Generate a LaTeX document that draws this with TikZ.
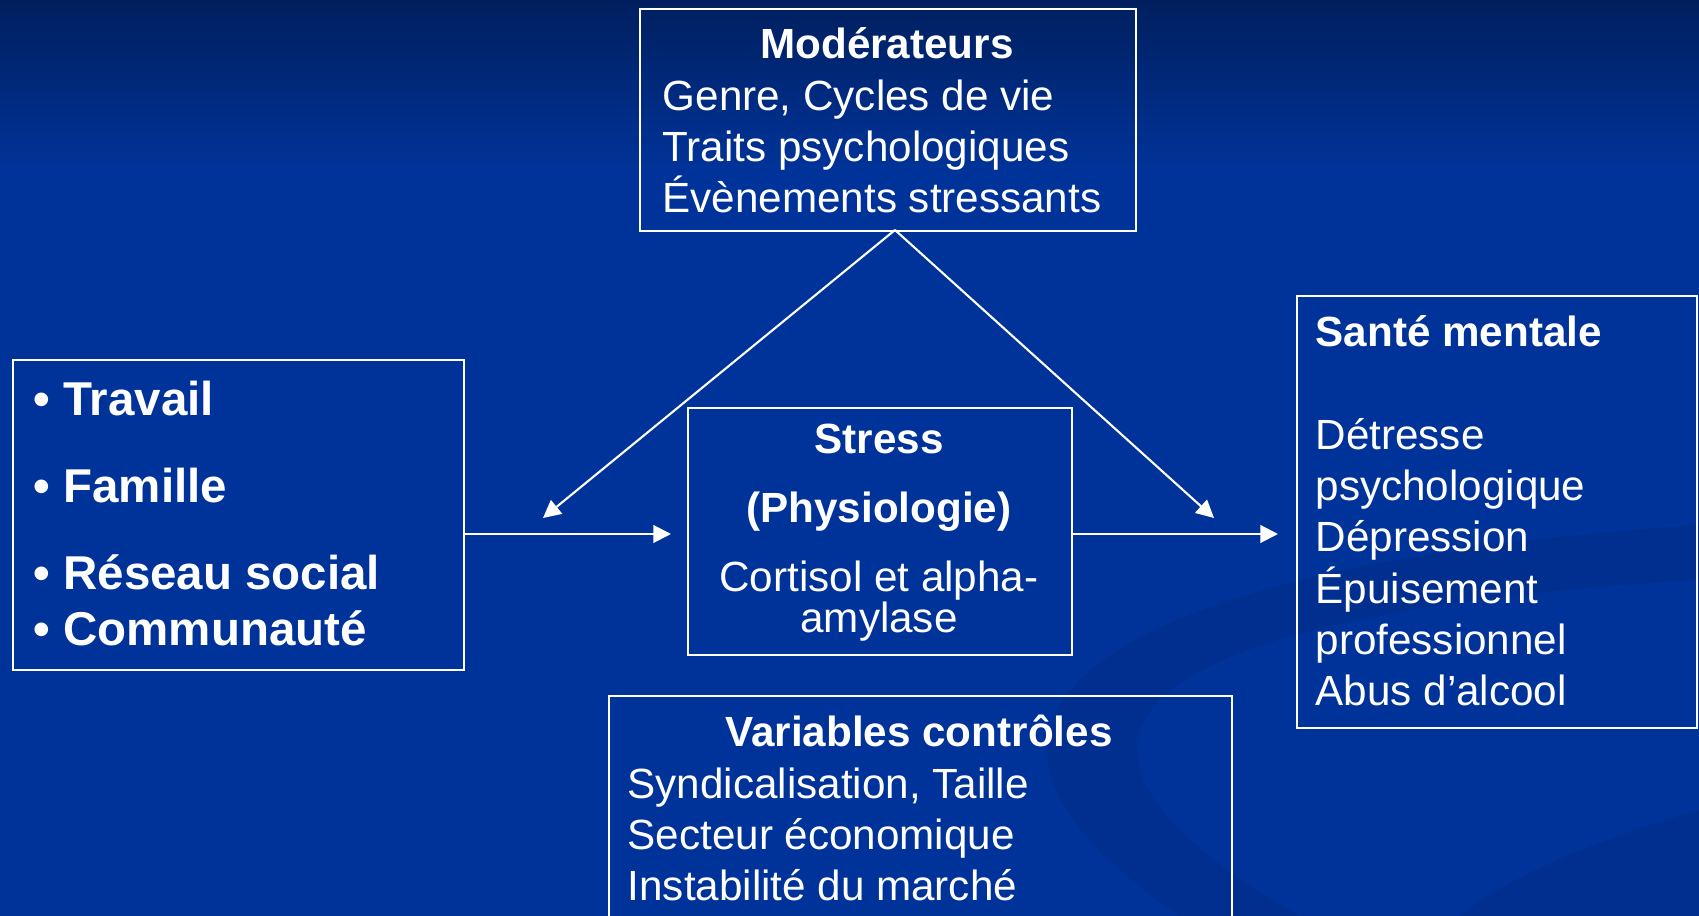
\documentclass[tikz,border=0pt]{standalone}
\usepackage{fontspec}
\setmainfont{Liberation Sans}
\usetikzlibrary{arrows.meta,positioning}
\definecolor{SlideTop}{RGB}{0,31,94}
\definecolor{SlideBlue}{RGB}{0,51,153}
\definecolor{SlideSwoosh}{RGB}{0,42,128}
\begin{document}
\begin{tikzpicture}[x=0.01cm,y=-0.01cm,
every node/.style={text=white,inner sep=0pt,font=\fontsize{12}{14.6}\selectfont},
box/.style={draw=white,line width=0.55pt,anchor=north west},
heading/.style={font=\fontsize{12}{14.6}\selectfont\bfseries,anchor=base},
body/.style={align=left,anchor=base west},
arrow/.style={-{Triangle[length=5pt,width=5pt]},draw=white,line width=0.6pt}]
\useasboundingbox (0,0) rectangle (1699,916);
\clip (0,0) rectangle (1699,916);
% slide background
\fill[SlideBlue] (0,0) rectangle (1699,916);
\shade[top color=SlideTop,bottom color=SlideBlue] (0,0) rectangle (1699,170);
\fill[SlideSwoosh,opacity=.35] (1699,525) .. controls (1150,560) and (860,700) .. (1180,916)
  -- (1300,916) .. controls (960,720) and (1180,610) .. (1699,580) -- cycle;
\fill[SlideSwoosh,opacity=.35] (1699,810) .. controls (1560,850) and (1490,890) .. (1460,916) -- (1699,916) -- cycle;
% boxes
\node[box,minimum width=4.96cm,minimum height=2.22cm] (mod) at (639,8) {};
\node[box,minimum width=4.51cm,minimum height=3.10cm] (env) at (12,359) {};
\node[box,minimum width=3.84cm,minimum height=2.47cm] (stress) at (687,407) {};
\node[box,minimum width=4.00cm,minimum height=4.32cm] (sante) at (1296,295) {};
\node[box,minimum width=6.23cm,minimum height=2.60cm] (ctrl) at (608,695) {};
% texts (multi-line nodes sit on their last baseline)
\node[heading] (modhead) at (887,59) {Modérateurs};
\node[body] (modlist) at (662,213) {Genre, Cycles de vie\\Traits psychologiques\\Évènements stressants};
\node[body,font=\fontsize{13.5}{16.2}\selectfont\bfseries] (envlist) at (33,646)
  {• Travail\\[8.5pt]• Famille\\[8.5pt]• Réseau social\\• Communauté};
\node[align=center,anchor=base,font=\fontsize{12}{11.9}\selectfont] (stresstext) at (879,633)
  {\textbf{Stress}\\[7.7pt]\textbf{(Physiologie)}\\[7.7pt]Cortisol et alpha-\\amylase};
\node[body] (santelist) at (1315,706)
  {\textbf{Santé mentale}\\[14.6pt]Détresse\\psychologique\\Dépression\\Épuisement\\professionnel\\Abus d’alcool};
\node[heading] (ctrlhead) at (919,747) {Variables contrôles};
\node[body] (ctrllist) at (627,901) {Syndicalisation, Taille\\Secteur économique\\Instabilité du marché};
% connectors
\coordinate (mid) at (0,534);
\coordinate (apex) at (895,230);
\coordinate (modleft) at (543,518);
\coordinate (modright) at (1214,518);
\draw[arrow,shorten >=0.16cm] (env.east |- mid) -- (stress.west |- mid);
\draw[arrow,shorten >=0.18cm] (stress.east |- mid) -- (sante.west |- mid);
\draw[arrow] (apex) -- (modleft);
\draw[arrow] (apex) -- (modright);
\end{tikzpicture}
\end{document}
